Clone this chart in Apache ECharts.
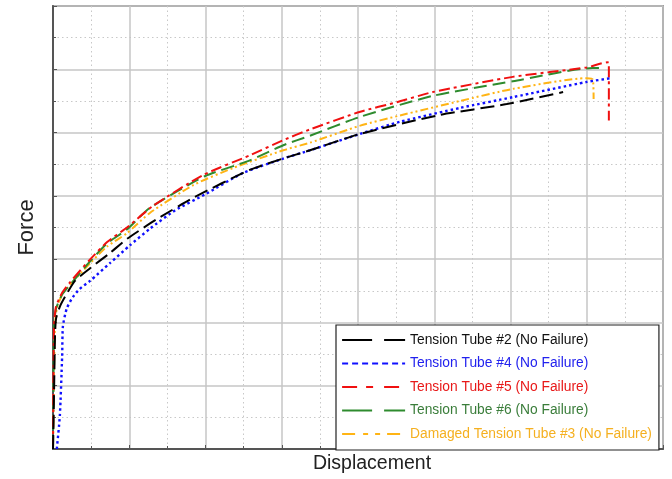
<!DOCTYPE html>
<html>
<head>
<meta charset="utf-8">
<title>Force vs Displacement</title>
<script src="https://cdn.jsdelivr.net/npm/echarts@6/dist/echarts.min.js"></script>
<style>
  html, body { margin: 0; padding: 0; background: #fff; }
  #chart { width: 672px; height: 479px; }
</style>
</head>
<body>
<div id="chart"></div>
<script>
// Load-displacement curves, [displacement, force] in grid units
const seriesNames = [
  'Tension Tube #2 (No Failure)',
  'Tension Tube #4 (No Failure)',
  'Tension Tube #5 (No Failure)',
  'Tension Tube #6 (No Failure)',
  'Damaged Tension Tube #3 (No Failure)'
];

const tube2 = [
  [0, 0], [0.013, 0.84], [0.026, 1.77], [0.04, 2.06], [0.09, 2.25], [0.16, 2.41],
  [0.29, 2.66], [0.49, 2.86], [0.75, 3.1], [0.97, 3.32], [1.36, 3.63], [1.84, 3.97],
  [2.58, 4.41], [3.02, 4.59], [3.37, 4.72], [4.03, 4.98], [5.08, 5.28], [5.95, 5.45],
  [6.69, 5.64]
];

const tube4 = [
  [0.05, 0], [0.09, 0.53], [0.12, 1.47], [0.13, 1.94], [0.18, 2.22], [0.26, 2.4],
  [0.35, 2.53], [0.49, 2.66], [0.75, 2.94], [1.01, 3.22], [1.27, 3.48], [1.6, 3.77],
  [1.99, 4.02], [2.49, 4.36], [3.02, 4.59], [3.37, 4.72], [4.03, 4.98], [4.55, 5.17],
  [5.34, 5.39], [6.03, 5.56], [7.0, 5.8], [7.32, 5.86]
];

const tube5 = [
  [0, 0], [0.013, 1.94], [0.04, 2.25], [0.12, 2.47], [0.22, 2.63], [0.49, 3.0],
  [0.71, 3.27], [0.97, 3.5], [1.31, 3.84], [1.97, 4.33], [2.58, 4.64], [3.02, 4.88],
  [3.37, 5.05], [4.03, 5.33], [4.51, 5.48], [4.98, 5.64], [6.03, 5.88], [7.0, 6.03],
  [7.27, 6.11], [7.29, 6.1], [7.29, 5.19]
];

const tube6 = [
  [0, 0], [0.007, 1.0], [0.013, 1.94], [0.04, 2.22], [0.12, 2.44], [0.22, 2.59],
  [0.49, 2.97], [0.71, 3.25], [0.97, 3.47], [1.27, 3.81], [1.99, 4.31], [2.58, 4.56],
  [3.02, 4.8], [3.37, 4.95], [4.03, 5.25], [4.98, 5.58], [6.03, 5.81], [7.08, 6.02],
  [7.16, 6.02]
];

const tube3Damaged = [
  [0, 0], [0.013, 1.16], [0.026, 1.94], [0.05, 2.22], [0.12, 2.44], [0.22, 2.59],
  [0.49, 2.94], [0.71, 3.2], [0.97, 3.41], [1.27, 3.73], [1.84, 4.17], [2.36, 4.44],
  [3.02, 4.72], [3.37, 4.84], [4.03, 5.11], [4.55, 5.27], [5.34, 5.5], [6.03, 5.69],
  [7.0, 5.86], [7.08, 5.84], [7.09, 5.53]
];

const seriesData = [tube2, tube4, tube5, tube6, tube3Damaged];
const lineColors = ['#000000', '#1010ff', '#f01010', '#2e8b2e', '#ffb414'];
const textColors = ['#111111', '#2222ee', '#e81818', '#3a7d3a', '#f5b020'];
const plotDash = [[14, 6], [2.5, 3], [11, 4, 3, 4], [13, 6], [8, 3, 2, 3, 2, 3]];
const legendDash = [[30, 12], [6, 4], [15, 9, 7, 11], [30, 12], [13, 8, 5, 7, 5, 7]];

const chart = echarts.init(document.getElementById('chart'), null, { renderer: 'canvas' });

const gridLine = { color: '#c6c6c6', width: 1.5 };
const minorLine = { color: '#c8c8c8', width: 1, type: [1.5, 3] };
const axisCommon = {
  type: 'value',
  interval: 1,
  minorSplitLine: { show: true, lineStyle: minorLine },
  minorTick: { show: true, splitNumber: 2, length: 3, lineStyle: { color: '#555' } },
  splitLine: { show: true, lineStyle: gridLine },
  axisTick: { show: true, inside: true, length: 4, lineStyle: { color: '#555' } },
  axisLabel: { show: false },
  axisLine: { show: true, onZero: false, lineStyle: { color: '#555', width: 2 } },
  nameLocation: 'middle',
  nameTextStyle: { fontFamily: 'Liberation Sans, Arial, sans-serif', color: '#222' }
};

chart.setOption({
  backgroundColor: '#ffffff',
  animation: false,
  grid: {
    left: 53, top: 6, right: 9, bottom: 25,
    show: true, borderColor: '#555', borderWidth: 1.5, backgroundColor: '#fff'
  },
  xAxis: Object.assign({}, axisCommon, {
    min: 0, max: 8,
    name: 'Displacement', nameGap: 5,
    nameTextStyle: Object.assign({}, axisCommon.nameTextStyle, { fontSize: 19.5, padding: [0, 0, 0, 28] })
  }),
  yAxis: Object.assign({}, axisCommon, {
    min: 0, max: 7,
    name: 'Force', nameGap: 15,
    nameTextStyle: Object.assign({}, axisCommon.nameTextStyle, { fontSize: 22 })
  }),
  legend: {
    orient: 'vertical',
    left: 336, top: 325,
    padding: [8, 7, 9, 5],
    itemWidth: 63, itemHeight: 14, itemGap: 9.5,
    backgroundColor: '#ffffff',
    borderColor: '#222', borderWidth: 1.2,
    textStyle: { fontFamily: 'Liberation Sans, Arial, sans-serif', fontSize: 13.8 },
    data: seriesNames.map((n, i) => ({
      name: n,
      itemStyle: { opacity: 0 },
      lineStyle: { color: lineColors[i], width: 2.2, type: legendDash[i] },
      textStyle: { color: textColors[i] }
    }))
  },
  series: seriesNames.map((n, i) => ({
    name: n,
    type: 'line',
    data: seriesData[i],
    symbol: 'none',
    smooth: 0.2,
    z: 10 - i,
    lineStyle: { color: lineColors[i], width: i === 1 ? 2.4 : 2, type: plotDash[i] },
    itemStyle: { color: lineColors[i] }
  }))
});
</script>
</body>
</html>
